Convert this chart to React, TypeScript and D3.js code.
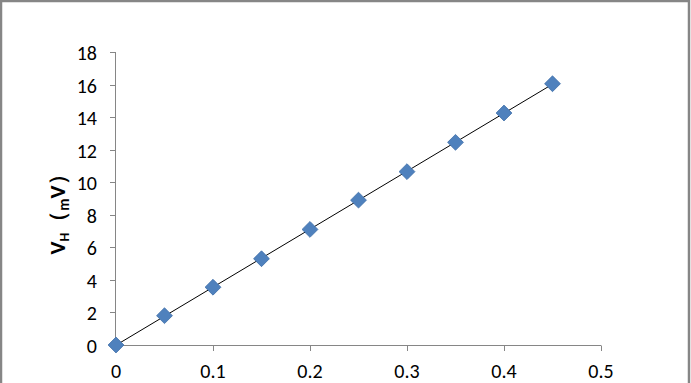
import React from "react";
import * as d3 from "d3";

const xValues = [0, 0.05, 0.1, 0.15, 0.2, 0.25, 0.3, 0.35, 0.4, 0.45];
const yValues = [0, 1.8, 3.55, 5.3, 7.1, 8.9, 10.65, 12.45, 14.25, 16.05];
const xTicks = [0, 0.1, 0.2, 0.3, 0.4, 0.5];
const yTicks = [0, 2, 4, 6, 8, 10, 12, 14, 16, 18];

export default function App() {
  const W = 691, H = 383;
  const x = d3.scaleLinear().domain([0, 0.5]).range([116, 601]);
  const y = d3.scaleLinear().domain([0, 18]).range([345, 52]);
  const n = xValues.length;
  const mx = d3.mean(xValues)!, my = d3.mean(yValues)!;
  let sxy = 0, sxx = 0;
  for (let i = 0; i < n; i++) {
    sxy += (xValues[i] - mx) * (yValues[i] - my);
    sxx += (xValues[i] - mx) ** 2;
  }
  const slope = sxy / sxx;
  const icpt = my - slope * mx;
  const x0 = 0, x1 = 0.45;
  const font = "Carlito, 'Liberation Sans', 'Open Sans', sans-serif";
  const diamond = d3.symbol().type(d3.symbolDiamond2).size(160)()!;
  return (
    <svg width={W} height={H} style={{ position: "absolute", left: 0, top: 0, background: "#fff" }}>
      <rect x={1} y={1} width={688} height={420} fill="#fff" stroke="#868686" strokeWidth={2.5} />
      {/* y axis */}
      <line x1={115.5} x2={115.5} y1={y(18)} y2={y(0)} stroke="#868686" strokeWidth={1} />
      {yTicks.map((t) => (
        <g key={"y" + t}>
          <line x1={110} x2={115.5} y1={Math.round(y(t)) + 0.5} y2={Math.round(y(t)) + 0.5} stroke="#868686" />
          <text x={97} y={y(t) + 1} dy="0.35em" textAnchor="end" fontSize={20} fontFamily={font} fill="#000">{t}</text>
        </g>
      ))}
      {/* x axis */}
      <line x1={115.5} x2={x(0.5)} y1={345.5} y2={345.5} stroke="#868686" />
      {xTicks.map((t) => (
        <g key={"x" + t}>
          <line x1={Math.round(x(t)) + 0.5} x2={Math.round(x(t)) + 0.5} y1={345.5} y2={351} stroke="#868686" />
          <text x={x(t)} y={378} textAnchor="middle" fontSize={20} fontFamily={font} fill="#000">{t}</text>
        </g>
      ))}
      {/* trend line */}
      <line x1={x(x0)} y1={y(icpt + slope * x0)} x2={x(x1)} y2={y(icpt + slope * x1)} stroke="#000" strokeWidth={1} />
      {/* points */}
      {xValues.map((v, i) => (
        <path key={i} d={diamond} transform={`translate(${x(v)},${y(yValues[i])})`} fill="#4F81BD" stroke="#3F6FA8" strokeWidth={0.8} />
      ))}
      {/* y label */}
      <text transform="translate(65,209) rotate(-90)" textAnchor="middle" fontSize={22} fontWeight="bold" fontFamily={font} fill="#000">
        <tspan>V</tspan>
        <tspan fontSize={14} dy={4}>H</tspan>
        <tspan dy={-4}>（</tspan>
        <tspan fontSize={15} dy={4}>m</tspan>
        <tspan dy={-4}>V）</tspan>
      </text>
    </svg>
  );
}
